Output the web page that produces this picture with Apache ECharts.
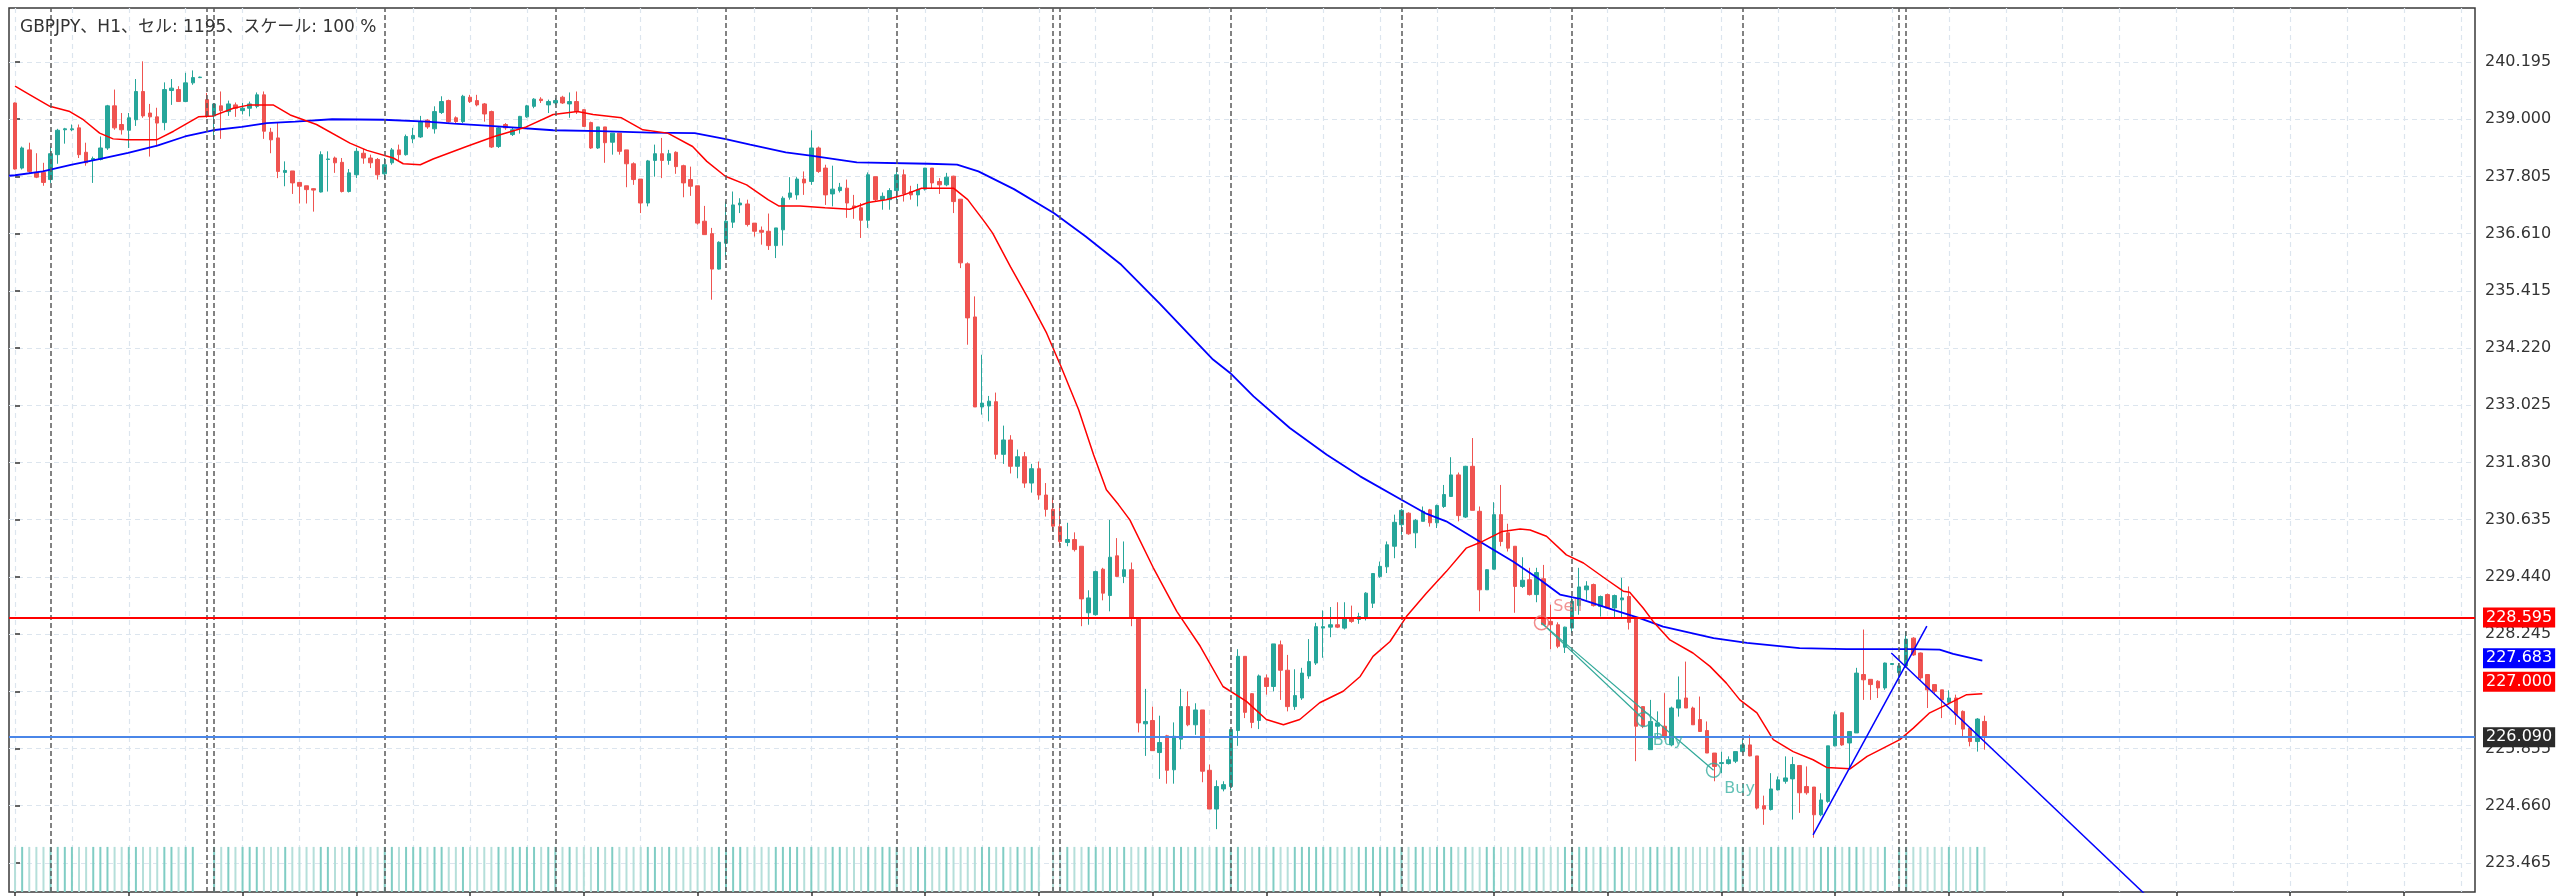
<!DOCTYPE html>
<html><head><meta charset="utf-8">
<script src="https://cdn.jsdelivr.net/npm/echarts/dist/echarts.min.js"></script>
<style>html,body{margin:0;padding:0;background:#fff}#c{width:2560px;height:896px}</style>
</head><body><div id="c"></div>
<script>
const chartTitle = 'GBPJPY、H1、セル: 1195、スケール: 100 %';
const opens = [239.34,237.98,238.36,237.89,237.89,237.74,238.26,238.78,238.78,238.82,
238.31,238.14,238.16,238.40,239.28,238.89,238.77,238.99,239.58,239.13,
239.05,238.93,239.60,239.62,239.37,239.76,239.87,239.41,239.07,239.28,
239.16,239.30,239.18,239.23,239.27,239.51,238.73,238.61,237.89,237.92,
237.68,237.61,237.55,237.48,238.16,238.19,238.10,237.49,237.84,238.29,
238.19,238.16,237.86,238.09,238.36,238.26,238.59,238.63,238.98,238.80,
239.14,239.39,239.03,238.95,239.46,239.39,239.32,239.16,238.43,238.89,
238.68,238.82,239.05,239.27,239.42,239.30,239.34,239.46,239.32,239.37,
239.20,238.93,238.40,238.84,238.52,238.71,238.36,238.07,237.75,237.25,
238.14,238.28,238.14,238.31,238.03,237.74,237.61,236.87,236.61,235.87,
236.41,236.85,237.21,237.23,236.83,236.68,236.66,236.36,236.69,237.37,
237.42,237.75,237.70,238.40,237.98,237.44,237.51,237.56,237.19,237.15,
236.89,237.80,237.32,237.32,237.51,237.84,237.49,237.42,237.54,237.98,
237.70,237.63,237.81,237.33,235.98,234.87,232.99,233.01,233.10,232.00,
232.30,231.75,231.95,231.40,231.70,231.15,230.85,230.49,230.16,230.22,
230.08,228.69,228.65,229.60,229.05,229.88,229.45,229.59,228.58,226.37,
226.44,225.77,226.12,225.41,226.05,226.73,226.35,226.66,225.40,224.59,
225.01,225.06,226.23,227.78,227.00,226.44,227.33,227.15,228.02,227.49,
226.73,226.91,227.37,227.64,228.37,228.39,228.44,228.37,228.56,228.55,
228.58,228.89,229.45,229.65,230.08,230.53,230.77,230.36,230.60,230.84,
230.57,230.91,231.12,231.57,230.69,231.75,230.81,229.17,229.60,230.74,
230.36,230.08,229.24,229.38,229.07,229.40,228.51,228.44,227.97,228.37,
228.84,229.17,229.28,228.82,229.07,228.79,228.96,229.03,228.56,226.73,
225.83,226.32,226.32,225.93,226.70,226.91,226.70,226.46,226.23,225.76,
225.54,225.54,225.59,225.79,225.93,225.70,224.66,224.58,224.99,225.17,
225.22,225.50,225.06,225.05,224.47,224.75,225.91,226.60,225.97,226.18,
227.40,227.30,227.26,227.12,227.61,227.44,227.58,228.16,227.85,227.40,
227.19,227.08,226.82,226.91,226.63,226.28,226.00,226.42];
const closes = [237.96,238.40,237.91,237.79,237.68,238.28,238.77,238.80,238.80,238.26,
238.09,238.18,238.40,239.28,238.82,238.78,239.03,239.58,239.07,239.05,
238.92,239.62,239.65,239.37,239.76,239.87,239.88,239.07,239.32,239.18,
239.32,239.23,239.23,239.32,239.51,238.75,238.57,237.91,237.93,237.67,
237.60,237.53,237.52,238.26,238.17,238.09,237.49,237.88,238.33,238.19,
238.09,237.84,238.05,238.36,238.26,238.64,238.66,238.95,238.84,239.16,
239.37,238.95,238.95,239.48,239.37,239.30,239.11,238.42,238.82,238.82,
238.78,239.06,239.28,239.42,239.39,239.37,239.39,239.34,239.37,239.16,
238.85,238.40,238.84,238.51,238.71,238.33,238.07,237.74,237.25,238.13,
238.28,238.14,238.28,238.01,237.67,237.60,236.83,236.59,235.87,236.43,
236.87,237.21,237.25,236.80,236.66,236.64,236.36,236.73,237.35,237.46,
237.75,237.67,238.40,237.91,237.42,237.54,237.58,237.25,237.15,236.89,
237.84,237.32,237.39,237.51,237.84,237.44,237.42,237.53,237.98,237.67,
237.63,237.79,237.28,236.00,234.85,232.99,233.07,233.11,232.00,232.30,
231.75,231.95,231.40,231.70,231.15,230.85,230.50,230.18,230.22,230.01,
228.98,229.00,229.55,229.10,229.85,229.45,229.59,228.58,226.39,226.42,
225.81,225.98,225.40,226.11,226.73,226.35,226.66,225.38,224.59,225.06,
225.10,226.25,227.78,226.61,226.40,227.37,227.15,228.04,227.49,226.73,
226.96,227.43,227.67,228.40,228.40,228.44,228.39,228.56,228.51,228.61,
229.10,229.51,229.66,230.11,230.58,230.83,230.34,230.62,230.81,230.57,
230.93,231.16,231.57,230.72,231.75,230.83,229.17,229.59,230.74,230.18,
230.04,229.24,229.37,229.07,229.53,228.44,228.44,227.99,228.39,228.93,
229.23,229.25,228.84,229.03,228.79,229.05,229.00,228.49,226.32,226.32,
226.42,226.39,226.11,226.70,226.87,226.70,226.35,226.21,225.76,225.48,
225.56,225.62,225.79,225.93,225.70,224.61,224.59,225.01,225.20,225.24,
225.52,224.93,224.93,224.47,224.78,225.91,226.56,225.93,226.21,227.43,
227.29,227.19,227.12,227.64,227.63,227.58,228.14,227.81,227.33,227.08,
227.05,226.87,226.91,226.56,226.26,226.00,226.47,226.11];
const highs = [239.35,238.43,238.51,238.29,238.09,238.43,238.80,238.82,238.89,238.89,
238.51,238.22,238.64,239.30,239.62,239.13,239.13,239.84,240.21,239.32,
239.24,239.77,239.84,239.69,239.97,240.02,239.89,239.55,239.33,239.58,
239.39,239.35,239.34,239.37,239.56,239.58,238.82,238.92,238.12,237.92,
237.68,237.61,237.56,238.33,238.33,238.22,238.19,237.96,238.40,238.38,
238.26,238.19,238.19,238.40,238.47,238.68,238.82,239.07,239.00,239.27,
239.48,239.41,239.06,239.51,239.51,239.51,239.34,239.18,238.84,238.92,
238.82,239.07,239.30,239.44,239.46,239.41,239.44,239.49,239.56,239.58,
239.21,238.95,238.84,238.84,238.71,238.71,238.36,238.10,237.75,238.15,
238.47,238.61,238.36,238.33,238.05,238.01,237.61,237.19,236.73,236.45,
237.28,237.49,237.35,237.32,236.83,236.76,237.03,236.73,237.39,237.79,
237.79,237.91,238.77,238.43,238.05,238.03,237.67,237.74,237.42,237.25,
237.89,237.80,237.47,237.56,237.98,237.95,237.61,237.65,237.98,237.98,
237.77,237.88,237.82,237.33,236.01,235.30,234.08,233.22,233.29,232.60,
232.40,232.10,232.05,231.80,231.85,231.40,231.10,230.98,230.57,230.37,
230.08,229.16,229.57,229.63,230.63,230.25,230.18,229.74,228.58,227.10,
226.73,226.54,226.14,226.40,227.10,227.05,226.80,226.66,225.52,225.19,
225.17,226.26,227.93,227.78,227.01,227.40,227.40,228.04,228.11,227.81,
227.51,227.54,228.14,228.48,228.74,228.81,228.91,228.91,228.84,228.69,
229.12,229.52,229.76,230.18,230.74,230.86,230.79,230.65,230.91,230.86,
230.95,231.36,231.94,231.62,231.76,232.34,230.91,229.60,231.00,231.36,
230.55,230.08,229.85,229.63,229.63,229.69,228.86,228.49,228.40,229.03,
229.63,229.35,229.30,229.05,229.09,229.07,229.42,229.24,228.56,226.73,
226.87,226.63,227.01,226.73,227.36,227.67,226.73,226.94,226.42,225.76,
225.79,225.69,225.79,226.05,226.14,225.70,224.87,225.34,225.27,225.69,
225.68,225.50,225.48,225.05,224.92,225.91,226.63,226.61,226.21,227.54,
228.34,227.30,227.28,227.65,227.64,227.64,228.30,228.18,227.86,227.40,
227.19,227.08,227.07,226.98,226.65,226.28,226.49,226.54];
const lows = [237.95,237.95,237.88,237.77,237.61,237.67,238.07,238.49,238.75,238.19,
238.03,237.67,238.14,238.36,238.78,238.68,238.40,238.86,239.03,238.22,
238.43,238.77,239.30,239.36,239.36,239.72,239.86,239.03,238.57,238.59,
239.07,239.05,239.10,239.06,239.23,238.59,238.29,237.77,237.60,237.44,
237.24,237.24,237.07,237.47,237.49,237.88,237.47,237.47,237.77,238.07,
237.98,237.74,237.74,238.05,238.15,238.24,238.50,238.61,238.80,238.70,
239.11,238.93,238.92,238.92,239.34,239.27,238.95,238.40,238.40,238.78,
238.65,238.70,239.03,239.23,239.34,239.13,239.30,239.32,239.03,239.11,
238.84,238.38,238.38,238.09,238.26,238.26,237.58,237.63,237.04,237.18,
237.80,237.77,238.05,237.86,237.37,237.40,236.80,236.59,235.23,235.86,
236.13,236.73,237.04,236.76,236.55,236.38,236.27,236.10,236.36,237.32,
237.32,237.42,237.63,237.88,237.21,237.18,237.47,236.94,236.92,236.52,
236.73,237.28,237.11,237.11,237.32,237.28,237.32,237.18,237.51,237.56,
237.44,237.60,237.04,235.89,234.29,232.99,232.83,232.69,231.90,231.80,
231.60,231.50,231.30,231.20,231.05,230.70,230.40,230.08,230.08,229.97,
228.41,228.44,228.63,228.95,228.72,229.45,229.31,228.41,226.19,225.70,
225.81,225.22,225.12,225.12,225.84,226.32,226.14,225.15,224.59,224.17,
224.96,224.98,225.91,226.49,226.28,226.26,226.98,227.05,226.87,226.63,
226.66,226.87,227.31,227.60,227.75,228.18,228.37,228.34,228.48,228.46,
228.53,228.79,229.42,229.52,229.83,230.32,230.32,230.04,230.60,230.49,
230.46,230.88,231.11,230.60,230.67,230.83,228.72,229.17,229.59,230.08,
229.97,228.69,229.21,229.05,228.91,228.44,227.93,227.95,227.85,228.27,
228.65,228.96,228.82,228.61,228.79,228.60,228.58,228.34,225.59,226.28,
225.83,226.11,226.04,225.90,226.52,226.70,226.35,226.21,225.76,225.17,
225.34,225.52,225.55,225.77,225.69,224.58,224.26,224.56,224.98,225.12,
224.37,224.51,224.89,223.99,224.44,224.72,225.90,225.91,225.41,226.18,
226.87,226.87,226.91,227.08,227.61,227.29,227.57,227.79,227.29,226.70,
227.01,226.49,226.77,226.35,226.11,225.90,225.79,225.83];
const volumes = [
1,1,1,1,1,1,1,1,1,1,
1,1,1,1,1,1,1,1,1,1,
1,1,1,1,1,1,0,0,1,1,
1,1,1,1,1,1,1,1,1,1,
1,1,1,1,1,1,1,1,1,1,
1,1,1,1,1,1,1,1,1,1,
1,1,1,1,1,1,1,1,1,1,
1,1,1,1,1,1,1,1,1,1,
1,1,1,1,1,1,1,1,1,1,
1,1,1,1,1,1,1,1,1,1,
1,1,1,1,1,1,1,1,1,1,
1,1,1,1,1,1,1,1,1,1,
1,1,1,1,1,1,1,1,1,1,
1,1,1,1,1,1,1,1,1,1,
1,1,1,1,1,0,1,1,1,1,
1,1,1,1,1,1,1,1,1,1,
1,1,1,1,1,1,1,1,1,1,
1,1,1,1,1,1,1,1,1,1,
1,1,1,1,1,1,1,1,1,1,
1,1,1,1,1,1,1,1,1,1,
1,1,1,1,1,1,1,1,1,1,
1,1,1,1,1,1,1,1,1,1,
1,1,1,1,1,1,1,1,1,1,
1,1,1,1,1,1,1,1,1,1,
1,1,1,1,1,1,1,1,1,1,
1,1,1,1,1,1,1,1,1,1,
1,1,1,1,0,1,1,1,1,1,
1,1,1,1,1,1,1,1];
const slowMA = [[-0.85,237.82],[0,237.83],[3.9,237.91],[8,238.05],[12,238.17],[15.9,238.30],[20,238.45],[23.9,238.64],[27.8,238.77],[31.9,238.84],[35.4,238.92],[39.4,238.95],[44.6,239.00],[51.8,238.99],[57.9,238.95],[61.7,238.91],[66.8,238.86],[75.7,238.77],[82.3,238.75],[89.3,238.72],[95.6,238.71],[99.8,238.59],[103.4,238.47],[108.4,238.31],[111.9,238.24],[118.4,238.10],[128.5,238.07],[132.5,238.05],[135.5,237.91],[140.5,237.54],[146.1,237.04],[150.6,236.55],[155.6,235.96],[161,235.15],[168.5,233.98],[170.9,233.70],[174.2,233.21],[179.3,232.55],[184.5,231.99],[189.2,231.54],[195,231.05],[198.5,230.76],[201.3,230.60],[206,230.18],[210.7,229.76],[214.5,229.38],[217.3,229.07],[220.1,228.98],[224.8,228.75],[228.5,228.58],[231.8,228.40],[238.9,228.16],[243.6,228.06],[251,227.95],[257.6,227.93],[267,227.93],[270.7,227.92],[272.6,227.83],[276.7,227.69]];
const fastMA = [[0,239.69],[2.1,239.51],[4.9,239.27],[7.7,239.16],[9.6,238.99],[11.9,238.71],[13.8,238.59],[15.7,238.57],[19.9,238.57],[22.3,238.75],[25.8,239.05],[27.9,239.07],[30.7,239.23],[33,239.30],[36.3,239.30],[38.7,239.09],[42.4,238.89],[47.1,238.50],[49.5,238.35],[53.2,238.19],[54.6,238.07],[57,238.05],[58.8,238.17],[63.5,238.43],[67.4,238.64],[71.9,238.84],[75.7,239.10],[79.1,239.16],[81.3,239.10],[85.3,239.03],[88.3,238.78],[91.8,238.71],[95.3,238.43],[97.3,238.12],[99.9,237.81],[102.9,237.63],[105.9,237.32],[107.4,237.19],[110.4,237.19],[113.9,237.15],[117.4,237.12],[120,237.26],[122.5,237.32],[125,237.42],[127.5,237.56],[132,237.56],[134,237.32],[136.5,236.83],[137.5,236.62],[140,235.92],[142.6,235.23],[145.1,234.53],[147.1,233.84],[149.6,232.93],[151.7,231.99],[153.5,231.26],[155.2,230.95],[156.8,230.63],[160.1,229.63],[163.4,228.72],[166.7,227.99],[169.9,227.15],[173.2,226.84],[176,226.46],[178.4,226.35],[180.7,226.46],[183.5,226.81],[186.8,227.05],[189.2,227.36],[191,227.78],[193.4,228.09],[195.7,228.61],[198.5,229.10],[201.3,229.55],[204.1,230.04],[206.4,230.18],[209.2,230.39],[211.7,230.44],[213.1,230.42],[215.4,230.29],[218.2,229.90],[220.6,229.73],[223.9,229.38],[226.2,229.14],[227.1,229.12],[229,228.79],[230.4,228.51],[232.7,228.13],[236,227.85],[238.4,227.57],[240.7,227.22],[242.6,226.87],[245,226.60],[247.3,226.04],[250.1,225.79],[252.9,225.62],[254.8,225.46],[258.1,225.43],[260.5,225.69],[265.1,226.04],[267,226.28],[269.3,226.60],[271.7,226.77],[274.5,226.98],[276.7,227.00]];
const yTickValues = [223.465,224.660,225.855,227.050,228.245,229.440,230.635,231.830,233.025,234.220,235.415,236.610,237.805,239.000,240.195];
const yLabelValues = [223.465,224.660,225.855,228.245,229.440,230.635,231.830,233.025,234.220,235.415,236.610,237.805,239.000,240.195];
const xGridBars = [0,8,16,24,32,40,48,56,64,72,80,88,96,104,112,120,128,136,144,152,160,168,176,184,192,200,208,216,224,232,240,248,256,264,272,280,288,296,304,312,320,328,336,344];
const xTickBars = [0,16,32,48,64,80,96,112,128,144,160,176,192,208,224,240,256,272,288,304,320,336];
const daySeparators = [5,27,28,52,76,100,124,146,147,171,195,219,243,265,266];
const sellLevel = 228.595;
const bidLevel = 226.090;
const slowMALast = 227.683;
const fastMALast = 227.000;
const sellTrade = [214.7, 228.48];
const buyTrades = [[229.1, 226.46], [238.9, 225.40]];
const trendUp = [[252.9, 224.05], [268.9, 228.41]];
const trendDown = [[263.9, 227.85], [300, 222.75]];

const FONT = "'DejaVu Sans', 'Noto Sans CJK JP', sans-serif";
const UP = '#26a69a', DOWN = '#ef5350';
const candles = opens.map((o, i) => [i, o, closes[i], lows[i], highs[i]]);
const volData = volumes.map((v, i) => ({value: [i, v], itemStyle: {color: closes[i] >= opens[i] ? '#80cdc4' : '#b5dfda'}}));

function tag(value, bg, extra, dy) {
  return Object.assign({
    yAxis: value,
    label: {show: true, position: 'end', distance: 8, formatter: () => value.toFixed(3),
      backgroundColor: bg, color: '#fff', fontFamily: FONT, fontSize: 16, lineHeight: 18,
      padding: [1, 3, 1, 3], offset: [0, dy || 0]}
  }, extra || {});
}
const hidden = {lineStyle: {color: 'rgba(0,0,0,0)', width: 0.01, opacity: 1}};

const chart = echarts.init(document.getElementById('c'), null, {renderer: 'canvas', devicePixelRatio: 1});
chart.setOption({
  animation: false,
  backgroundColor: '#fff',
  title: {text: chartTitle, left: 15, top: 14,
    textStyle: {fontFamily: FONT, fontSize: 17, fontWeight: 'normal', color: '#333'}},
  grid: {left: 9, right: 85, top: 8, bottom: 4, show: true, borderColor: '#3a3a3a', borderWidth: 1.5, backgroundColor: '#fff'},
  xAxis: [{
    type: 'value', min: -0.85, max: 346,
    axisLine: {show: false}, axisLabel: {show: false},
    axisTick: {show: false, customValues: xGridBars},
    splitLine: {show: true, lineStyle: {color: '#dce5ee', width: 1.2, type: [5, 4]}}
  }, {
    type: 'value', min: -0.85, max: 346, position: 'bottom',
    axisLine: {show: false}, axisLabel: {show: false},
    axisTick: {show: true, inside: false, length: 4, customValues: xTickBars, lineStyle: {color: '#333', width: 1.5}},
    splitLine: {show: false}
  }],
  yAxis: [{
    type: 'value', position: 'right', min: 222.857, max: 241.324,
    axisLine: {show: false},
    axisTick: {show: true, length: 5, customValues: yTickValues, lineStyle: {color: '#333', width: 1.5}},
    axisLabel: {customValues: yLabelValues, formatter: v => v.toFixed(3), color: '#333', fontFamily: FONT, fontSize: 16, margin: 10},
    splitLine: {show: true, lineStyle: {color: '#dce5ee', width: 1.2, type: [5, 4]}}
  }, {
    type: 'value', min: 0, max: 19.6, show: false
  }],
  series: [
    {
      type: 'bar', name: 'vol', xAxisIndex: 0, yAxisIndex: 1, data: volData, barWidth: 2, silent: true, z: 1
    },
    {
      type: 'candlestick', name: 'GBPJPY', data: candles, encode: {x: 0, y: [1, 2, 3, 4]},
      barWidth: 4, z: 3,
      itemStyle: {color: UP, color0: DOWN, borderColor: UP, borderColor0: DOWN, borderWidth: 1},
      markLine: {
        silent: true, symbol: ['none', 'none'], animation: false,
        data: daySeparators.map(b => ({xAxis: b, lineStyle: {color: '#5a5a5a', width: 1.5, type: [5, 3]}, label: {show: false}}))
          .concat([
            tag(sellLevel, '#ff0000', {lineStyle: {color: '#ff0000', width: 2, type: 'solid'}}),
            tag(bidLevel, '#2a2a2a', {lineStyle: {color: '#4a86e8', width: 2, type: 'solid'}})
          ])
      }
    },
    {
      type: 'line', name: 'MA slow', data: slowMA, showSymbol: false, z: 4,
      lineStyle: {color: '#0000ff', width: 1.8},
      markLine: {silent: true, symbol: ['none', 'none'], data: [tag(slowMALast, '#0000ff', hidden, -3)]}
    },
    {
      type: 'line', name: 'MA fast', data: fastMA, showSymbol: false, z: 4,
      lineStyle: {color: '#ff0000', width: 1.5},
      markLine: {silent: true, symbol: ['none', 'none'], data: [tag(fastMALast, '#ff0000', hidden, -12)]}
    },
    {
      type: 'line', name: 'trade1', data: [sellTrade, buyTrades[0]], showSymbol: false, z: 5,
      lineStyle: {color: '#2fa898', width: 1.2}
    },
    {
      type: 'line', name: 'trade2', data: [sellTrade, buyTrades[1]], showSymbol: false, z: 5,
      lineStyle: {color: '#2fa898', width: 1.2}
    },
    {
      type: 'line', name: 'trendUp', data: trendUp, showSymbol: false, z: 6, clip: true,
      lineStyle: {color: '#0000ff', width: 1.5}
    },
    {
      type: 'line', name: 'trendDown', data: trendDown, showSymbol: false, z: 6, clip: true,
      lineStyle: {color: '#0000ff', width: 1.5}
    },
    {
      type: 'scatter', name: 'trades', z: 7, symbol: 'circle', symbolSize: 14,
      data: [
        {value: sellTrade, name: 'Sell', itemStyle: {color: 'rgba(0,0,0,0)', borderColor: '#ee6e6e', borderWidth: 1.5},
          label: {show: true, position: 'right', formatter: '{b}', color: '#ef7b7b', fontFamily: FONT, fontSize: 16, offset: [-1, -16]}},
        {value: buyTrades[0], name: 'Buy', itemStyle: {color: 'rgba(0,0,0,0)', borderColor: '#36ad9f', borderWidth: 1.5},
          label: {show: true, position: 'right', formatter: '{b}', color: '#3fb3a5', fontFamily: FONT, fontSize: 16, offset: [-4, 21]}},
        {value: buyTrades[1], name: 'Buy', itemStyle: {color: 'rgba(0,0,0,0)', borderColor: '#36ad9f', borderWidth: 1.5},
          label: {show: true, position: 'right', formatter: '{b}', color: '#3fb3a5', fontFamily: FONT, fontSize: 16, offset: [-2, 19]}}
      ]
    }
  ]
});
</script></body></html>
